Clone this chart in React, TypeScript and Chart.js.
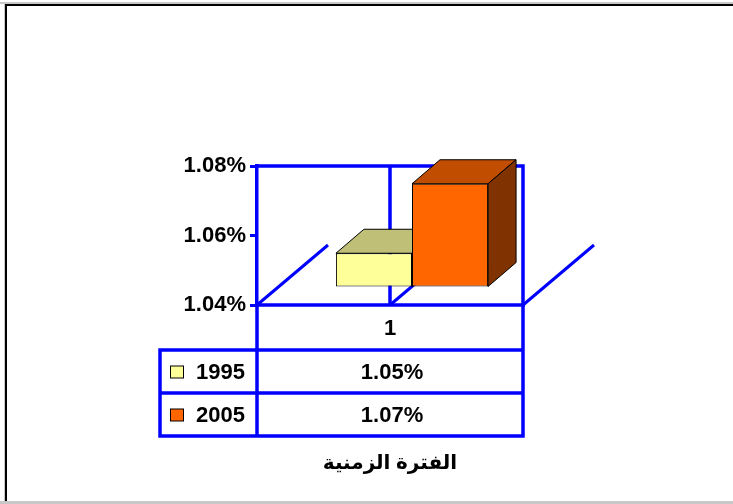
import React, { useEffect, useRef } from "react";
import { Chart, registerables } from "chart.js";

Chart.register(...registerables);

const categories = ["1"];
const seriesNames = ["1995", "2005"];
const values1995 = [1.05];
const values2005 = [1.07];
const yTickValues = [1.04, 1.06, 1.08];
const axisTitle = "الفترة الزمنية";

const frontColors = ["#FFFF99", "#FF6600"];
const topColors = ["#BFBF78", "#C04D00"];
const sideColors = ["#8A8A50", "#803300"];
const BLUE = "#0000FF";
const FONT = "Arial, 'Liberation Sans', 'DejaVu Sans', sans-serif";

const fmt = (v: number) => v.toFixed(2) + "%";

export default function App() {
  const ref = useRef<HTMLCanvasElement | null>(null);

  useEffect(() => {
    document.body.style.margin = "0";
    const canvas = ref.current!;
    const barShift = { x: 22, y: -17 };
    const faceDepth = { x: 28, y: -24 };
    const floorDepth = { x: 71, y: -60 };
    const LW = 3.5;

    const threeD = {
      id: "threeD",
      beforeDraw(chart: any) {
        const ctx = chart.ctx;
        ctx.save();
        ctx.fillStyle = "#fff";
        ctx.fillRect(0, 0, chart.width, chart.height);
        ctx.fillStyle = "#c8c8c8";
        ctx.fillRect(0, 2, chart.width, 2);
        ctx.fillRect(0, 501, chart.width, 3);
        ctx.fillRect(4, 4, 1, chart.height);
        ctx.fillStyle = "#000";
        ctx.fillRect(5, 4, chart.width - 5, 2);
        ctx.fillRect(5, 4, 2, 497);
        ctx.restore();
      },
      beforeDatasetsDraw(chart: any) {
        const ctx = chart.ctx;
        const a = chart.chartArea;
        const xs = chart.scales.x;
        const cx = xs.getPixelForValue(0);
        ctx.save();
        ctx.strokeStyle = BLUE;
        ctx.lineWidth = LW;
        ctx.lineCap = "butt";
        ctx.beginPath();
        ctx.moveTo(a.left - 2, a.top);
        ctx.lineTo(a.right, a.top);
        ctx.moveTo(a.right, a.top - LW / 2);
        ctx.lineTo(a.right, a.bottom);
        ctx.moveTo(a.left, a.bottom);
        ctx.lineTo(a.right + LW / 2, a.bottom);
        ctx.moveTo(cx, a.top);
        ctx.lineTo(cx, a.bottom);
        ctx.stroke();
        ctx.lineWidth = 3;
        ctx.beginPath();
        for (const x0 of [a.left, cx, a.right]) {
          ctx.moveTo(x0, a.bottom);
          ctx.lineTo(x0 + floorDepth.x, a.bottom + floorDepth.y);
        }
        ctx.stroke();
        ctx.restore();

        ctx.save();
        ctx.strokeStyle = "#000";
        ctx.lineWidth = 1;
        ctx.lineJoin = "miter";
        chart.data.datasets.forEach((ds: any, i: number) => {
          const meta = chart.getDatasetMeta(i);
          meta.data.forEach((el: any) => {
            const l = el.x - el.width / 2 + barShift.x;
            const r = el.x + el.width / 2 + barShift.x;
            const t = el.y + barShift.y;
            const b = el.base + barShift.y;
            ctx.fillStyle = topColors[i];
            ctx.beginPath();
            ctx.moveTo(l, t);
            ctx.lineTo(l + faceDepth.x, t + faceDepth.y);
            ctx.lineTo(r + faceDepth.x, t + faceDepth.y);
            ctx.lineTo(r, t);
            ctx.closePath();
            ctx.fill();
            ctx.stroke();
            ctx.fillStyle = sideColors[i];
            ctx.beginPath();
            ctx.moveTo(r, t);
            ctx.lineTo(r + faceDepth.x, t + faceDepth.y);
            ctx.lineTo(r + faceDepth.x, b + faceDepth.y);
            ctx.lineTo(r, b);
            ctx.closePath();
            ctx.fill();
            ctx.stroke();
          });
        });
        ctx.restore();
        ctx.save();
        ctx.translate(barShift.x, barShift.y);
      },
      afterDatasetsDraw(chart: any) {
        const ctx = chart.ctx;
        ctx.restore();
        const a = chart.chartArea;
        const xs = chart.scales.x;
        const tableLeft = 160;
        const headerBottom = a.bottom + 45;
        const rowH = 43;
        const tableBottom = headerBottom + rowH * chart.data.datasets.length;
        ctx.save();
        ctx.strokeStyle = BLUE;
        ctx.lineWidth = LW;
        ctx.beginPath();
        ctx.moveTo(a.left, a.bottom);
        ctx.lineTo(a.left, tableBottom);
        ctx.moveTo(a.right, a.bottom);
        ctx.lineTo(a.right, tableBottom);
        ctx.moveTo(tableLeft, headerBottom);
        ctx.lineTo(tableLeft, tableBottom);
        for (let k = 0; k <= chart.data.datasets.length; k++) {
          const y = headerBottom + rowH * k;
          ctx.moveTo(tableLeft - LW / 2, y);
          ctx.lineTo(a.right + LW / 2, y);
        }
        ctx.stroke();

        ctx.fillStyle = "#000";
        ctx.font = `bold 22px ${FONT}`;
        ctx.textBaseline = "middle";
        ctx.textAlign = "center";
        chart.data.labels.forEach((lab: string, j: number) => {
          ctx.fillText(lab, xs.getPixelForValue(j), (a.bottom + headerBottom) / 2 + 1);
        });
        chart.data.datasets.forEach((ds: any, i: number) => {
          const yc = headerBottom + rowH * i + rowH / 2 + 1;
          ctx.textAlign = "center";
          ds.data.forEach((v: number, j: number) => {
            ctx.fillText(fmt(v), xs.getPixelForValue(j) + 2, yc);
          });
          ctx.textAlign = "right";
          ctx.fillText(ds.label, a.left - 12, yc);
          ctx.fillStyle = frontColors[i];
          ctx.fillRect(170.5, yc - 6.5, 13, 12);
          ctx.strokeStyle = "#000";
          ctx.lineWidth = 1;
          ctx.strokeRect(170.5, yc - 6.5, 13, 12);
          ctx.fillStyle = "#000";
        });
        ctx.textAlign = "center";
        ctx.font = `bold 20px ${FONT}`;
        ctx.fillText(axisTitle, xs.getPixelForValue(0), tableBottom + 27);
        ctx.restore();
      },
    };

    const chart = new Chart(canvas, {
      type: "bar",
      data: {
        labels: categories,
        datasets: [
          {
            label: seriesNames[0],
            data: values1995,
            backgroundColor: frontColors[0],
            borderColor: "#000",
            borderWidth: 1,
            borderSkipped: false,
          },
          {
            label: seriesNames[1],
            data: values2005,
            backgroundColor: frontColors[1],
            borderColor: "#000",
            borderWidth: 1,
            borderSkipped: false,
          },
        ],
      },
      options: {
        responsive: false,
        animation: false,
        devicePixelRatio: 1,
        events: [],
        layout: { padding: { left: 157, right: 210, top: 166, bottom: 199 } },
        datasets: {
          bar: { categoryPercentage: 0.572, barPercentage: 1, clip: false, base: yTickValues[0] },
        },
        plugins: { legend: { display: false }, tooltip: { enabled: false }, title: { display: false } },
        scales: {
          x: { display: false },
          y: {
            min: yTickValues[0],
            max: yTickValues[yTickValues.length - 1],
            afterFit: (s: any) => {
              s.width = 100;
            },
            afterBuildTicks: (s: any) => {
              s.ticks = yTickValues.map((v) => ({ value: v }));
            },
            ticks: {
              callback: (v: any) => fmt(Number(v)),
              color: "#000",
              font: { family: FONT, size: 22, weight: "bold" },
              padding: 4,
            },
            grid: {
              drawOnChartArea: false,
              drawTicks: true,
              tickLength: 7,
              color: BLUE,
              lineWidth: 3,
            },
            border: { display: true, color: BLUE, width: LW },
          },
        },
      },
      plugins: [threeD],
    } as any);
    return () => chart.destroy();
  }, []);

  return <canvas ref={ref} width={733} height={504} style={{ display: "block", width: 733, height: 504 }} />;
}
